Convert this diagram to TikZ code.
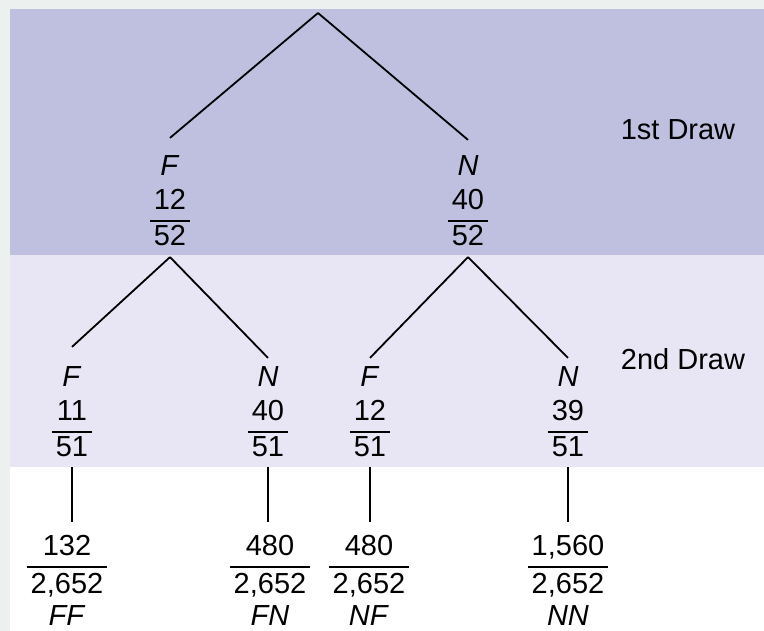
\documentclass[tikz,border=0pt]{standalone}
\usepackage{fontspec}
\setmainfont{Liberation Sans}
\definecolor{edgegray}{HTML}{ECF0EF}
\definecolor{drawone}{HTML}{BFBFE0}
\definecolor{drawtwo}{HTML}{E8E6F4}
\setlength{\arrayrulewidth}{1.6pt}
% letter over a probability
\newcommand{\pick}[3]{\begin{tabular}{@{\hspace{4pt}}c@{\hspace{4pt}}}\textit{#1}\\#2\\\hline\rule{0pt}{24pt}#3\end{tabular}}
% probability over the outcome
\newcommand{\result}[3]{\begin{tabular}{@{\hspace{4pt}}c@{\hspace{4pt}}}#1\\\hline\rule{0pt}{26pt}#2\\[-2pt]\textit{#3}\end{tabular}}
\begin{document}
\begin{tikzpicture}[x=1pt,y=-1pt]
\tikzstyle{every node}+=[inner sep=0pt,font=\fontsize{29}{34}\selectfont]
\tikzstyle{branch}=[black,line width=1.8pt]
\useasboundingbox (0,0) rectangle (764,631);
% bands
\fill [edgegray] (0,0) rectangle (764,631);
\fill [white] (10,9) rectangle (764,631);
\fill [drawone] (10,9) rectangle (764,255);
\fill [drawtwo] (10,255) rectangle (764,467);
\draw (678,140) node [anchor=base] {1st Draw};
\draw (683,370) node [anchor=base] {2nd Draw};
% first draw
\coordinate (r) at (318,13);
\node (f) at (170,204) {\pick{F}{12}{52}};
\node (n) at (468,204) {\pick{N}{40}{52}};
% second draw
\node (ff) at (72,415) {\pick{F}{11}{51}};
\node (fn) at (268,415) {\pick{N}{40}{51}};
\node (nf) at (370,415) {\pick{F}{12}{51}};
\node (nn) at (568,415) {\pick{N}{39}{51}};
% outcomes
\node (ffr) at (67,584) {\result{132}{2,652}{FF}};
\node (fnr) at (270,584) {\result{480}{2,652}{FN}};
\node (nfr) at (369,584) {\result{480}{2,652}{NF}};
\node (nnr) at (568,584) {\result{1,560}{2,652}{NN}};
% branches
\draw [branch] (r) -- ([yshift=14pt]f.north);
\draw [branch] (r) -- ([yshift=12pt]n.north);
\draw [branch] ([yshift=-1pt]f.south) -- ([yshift=16pt]ff.north);
\draw [branch] ([yshift=-1pt]f.south) -- ([yshift=5pt]fn.north);
\draw [branch] ([yshift=-1pt]n.south) -- ([yshift=5pt]nf.north);
\draw [branch] ([yshift=-1pt]n.south) -- ([yshift=5pt]nn.north);
\draw [branch] (ff.south) -- ([yshift=10pt]ff.south |- ffr.north);
\draw [branch] (fn.south) -- ([yshift=10pt]fn.south |- fnr.north);
\draw [branch] (nf.south) -- ([yshift=10pt]nf.south |- nfr.north);
\draw [branch] (nn.south) -- ([yshift=10pt]nn.south |- nnr.north);
\end{tikzpicture}
\end{document}
